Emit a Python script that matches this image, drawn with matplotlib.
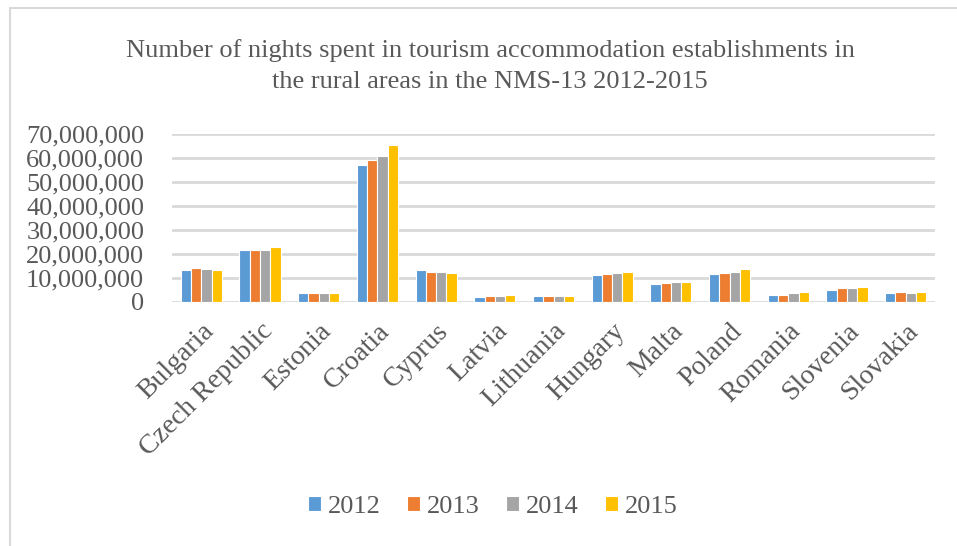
import numpy as np
import matplotlib.pyplot as plt
from matplotlib.ticker import FuncFormatter, MultipleLocator
from matplotlib.patches import Rectangle

countries = ['Bulgaria', 'Czech Republic', 'Estonia', 'Croatia', 'Cyprus', 'Latvia',
             'Lithuania', 'Hungary', 'Malta', 'Poland', 'Romania', 'Slovenia', 'Slovakia']
years = ['2012', '2013', '2014', '2015']
v2012 = [13.2e6, 21.8e6, 3.7e6, 57.1e6, 13.2e6, 1.9e6, 2.6e6, 11.1e6, 7.3e6, 11.6e6, 3.0e6, 5.1e6, 3.6e6]
v2013 = [14.3e6, 21.8e6, 3.7e6, 59.2e6, 12.6e6, 2.6e6, 2.6e6, 11.6e6, 7.9e6, 12.2e6, 3.0e6, 5.7e6, 4.1e6]
v2014 = [13.8e6, 21.8e6, 3.7e6, 60.7e6, 12.6e6, 2.6e6, 2.6e6, 12.1e6, 8.4e6, 12.6e6, 3.6e6, 5.7e6, 3.6e6]
v2015 = [13.2e6, 22.9e6, 3.7e6, 65.5e6, 12.1e6, 3.0e6, 2.6e6, 12.6e6, 8.4e6, 13.7e6, 4.1e6, 6.2e6, 4.1e6]
colors = ['#5B9BD5', '#ED7D31', '#A5A5A5', '#FFC000']

txt = '#595959'
plt.rcParams['font.family'] = ['Liberation Serif', 'DejaVu Serif']

fig = plt.figure(figsize=(9.57, 5.46), dpi=100)
ax = fig.add_axes([172 / 957, 1 - 302 / 546, (935 - 172) / 957, (302 - 134) / 546])

x = np.arange(len(countries))
w = 0.175
for i, (vals, c, y) in enumerate(zip([v2012, v2013, v2014, v2015], colors, years)):
    ax.bar(x + (i - 1.5) * w, vals, w, color=c, edgecolor='white', linewidth=0.8,
           label=y, zorder=3)

ax.set_xlim(-0.5, len(countries) - 0.5)
ax.set_ylim(0, 70e6)
ax.yaxis.set_major_locator(MultipleLocator(10e6))
ax.yaxis.set_major_formatter(FuncFormatter(lambda v, p: f'{int(v):,}'))
ax.grid(axis='y', color='#D9D9D9', linewidth=2, zorder=0)
for s in ax.spines.values():
    s.set_visible(False)
ax.tick_params(length=0, labelsize=19, labelcolor=txt)
ax.tick_params(axis='y', pad=20)
ax.set_xticks(x)
ax.set_xticklabels(countries, rotation=45, ha='right', rotation_mode='anchor', fontsize=20)
ax.tick_params(axis='x', pad=12)

fig.text(0.512, 1 - 66 / 546, 'Number of nights spent in tourism accommodation establishments in\n'
         'the rural areas in the NMS-13 2012-2015', ha='center', va='center',
         fontsize=19, color=txt, linespacing=1.55)

leg = fig.legend(loc='center', bbox_to_anchor=(0.515, 1 - 507 / 546), ncol=4, frameon=False,
                 fontsize=19, handlelength=0.5, handleheight=0.5, handletextpad=0.25,
                 columnspacing=1.0)
for t in leg.get_texts():
    t.set_color(txt)

fig.patches.append(Rectangle((10 / 957, -0.01), 1.0, 1 - 8 / 546 + 0.01, transform=fig.transFigure,
                             fill=False, edgecolor='#D9D9D9', linewidth=1.5))

fig.savefig('out.png', dpi=100)
